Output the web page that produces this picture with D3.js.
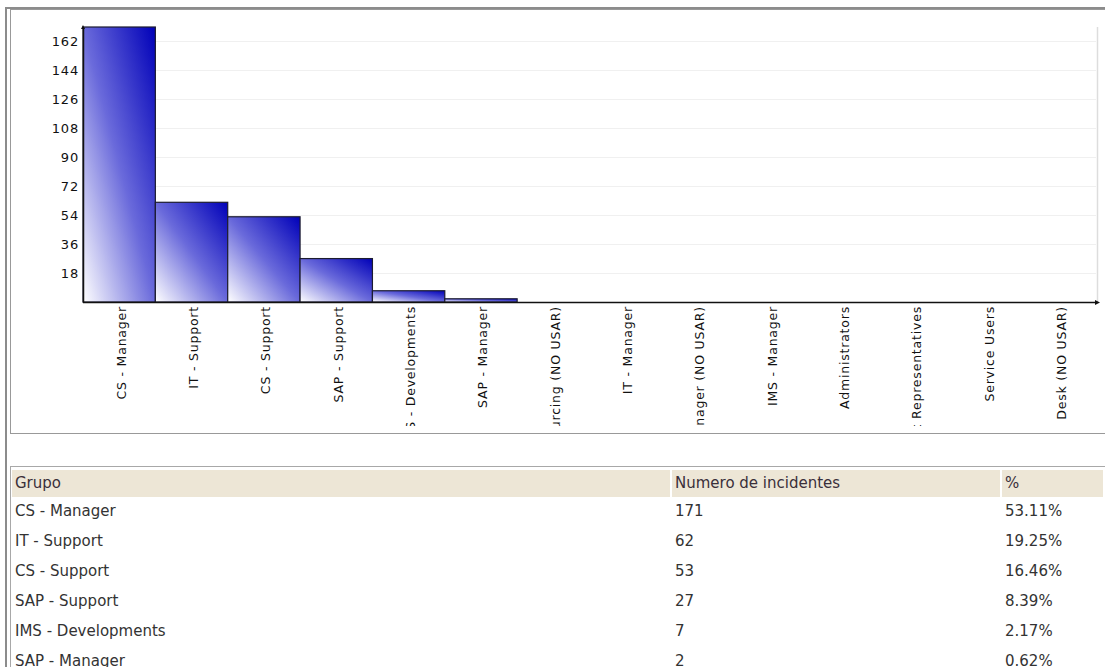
<!DOCTYPE html>
<html>
<head>
<meta charset="utf-8">
<script src="https://cdn.jsdelivr.net/npm/d3@7"></script>
<style>
  body { margin: 0; background: #fff; }
  svg { display: block; font-family: "DejaVu Sans", Verdana, sans-serif; }
</style>
</head>
<body>
<div id="chart"></div>
<script>
// Groups and their incident counts
var groups = [
  "CS - Manager", "IT - Support", "CS - Support", "SAP - Support",
  "IMS - Developments", "SAP - Manager", "IMS - Outsourcing (NO USAR)",
  "IT - Manager", "CS - Manager (NO USAR)", "IMS - Manager",
  "Administrators", "Account Representatives", "Service Users",
  "Help Desk (NO USAR)"
];
var incidents = [171, 62, 53, 27, 7, 2, 0, 0, 0, 0, 0, 0, 0, 0];
var yTicks = [18, 36, 54, 72, 90, 108, 126, 144, 162];
var columns = ["Grupo", "Numero de incidentes", "%"];

var width = 1105,
    height = 667;

var total = d3.sum(incidents),
    pct = d3.format(".2%");

// Table lists only the groups that have incidents
var rows = groups
  .map(function(g, i) { return [g, String(incidents[i]), pct(incidents[i] / total), incidents[i]]; })
  .filter(function(r) { return r[3] > 0; })
  .map(function(r) { return r.slice(0, 3); });

var svg = d3.select("#chart").append("svg")
    .attr("width", width)
    .attr("height", height);

var defs = svg.append("defs");

// Bar gradient: light at bottom-left, deep blue at top-right
var grad = defs.append("linearGradient")
    .attr("id", "barFill")
    .attr("x1", 0).attr("y1", 1)
    .attr("x2", 1).attr("y2", 0);
grad.append("stop").attr("offset", 0).attr("stop-color", "#ffffff");
grad.append("stop").attr("offset", 0.5).attr("stop-color", "#6a6adb");
grad.append("stop").attr("offset", 1).attr("stop-color", "#0000b8");

defs.append("clipPath").attr("id", "labelClip")
  .append("rect")
    .attr("x", 0).attr("y", 303)
    .attr("width", width).attr("height", 123);

// Page and panel frames
svg.append("line")
    .attr("x1", 6).attr("x2", 6).attr("y1", 7).attr("y2", height)
    .attr("stroke", "#8c8c8c").attr("stroke-width", 2);
svg.append("line")
    .attr("x1", 5).attr("x2", width).attr("y1", 8).attr("y2", 8)
    .attr("stroke", "#8c8c8c").attr("stroke-width", 2);
svg.append("rect")
    .attr("x", 10.5).attr("y", 9.5)
    .attr("width", width).attr("height", 424)
    .attr("fill", "none").attr("stroke", "#999");

// Scales
var x = d3.scaleBand()
    .domain(groups)
    .range([83, 1096])
    .padding(0);

var y = d3.scaleLinear()
    .domain([0, 171])
    .range([302, 27]);

// Gridlines
svg.append("g")
  .selectAll("line")
  .data(yTicks)
  .enter()
  .append("line")
    .attr("x1", 84).attr("x2", 1096)
    .attr("y1", function(d) { return Math.round(y(d)) + 0.5; })
    .attr("y2", function(d) { return Math.round(y(d)) + 0.5; })
    .attr("stroke", "#f0f0f0");

// Right edge of plot
svg.append("line")
    .attr("x1", 1097.5).attr("x2", 1097.5)
    .attr("y1", 27).attr("y2", 302)
    .attr("stroke", "#dddddd").attr("stroke-width", 1.5);

// Bars
svg.append("g")
  .selectAll("rect")
  .data(incidents)
  .enter()
  .append("rect")
    .attr("x", function(d, i) { return x(groups[i]); })
    .attr("y", function(d) { return y(d); })
    .attr("width", x.bandwidth())
    .attr("height", function(d) { return y(0) - y(d); })
    .attr("fill", "url(#barFill)")
    .attr("stroke", function(d) { return d > 0 ? "#1c1c30" : "none"; })
    .attr("stroke-width", 1.2);

// Y axis
var yAxis = svg.append("g")
    .attr("transform", "translate(83,0)")
    .call(d3.axisLeft(y).tickValues(yTicks).tickSize(0).tickPadding(4));
yAxis.select(".domain").attr("stroke", "#111").attr("stroke-width", 1.5);
yAxis.selectAll("text")
    .attr("fill", "#111")
    .style("font-size", "13px")
    .style("letter-spacing", "0.8px")
    .style("font-family", "'DejaVu Sans', Verdana, sans-serif");

// X axis line with arrows
svg.append("line")
    .attr("x1", 83).attr("x2", 1097)
    .attr("y1", 302.5).attr("y2", 302.5)
    .attr("stroke", "#111").attr("stroke-width", 1.5);
svg.append("path")
    .attr("d", "M1100,302.5L1095,300L1095,305Z")
    .attr("fill", "#111");
svg.append("path")
    .attr("d", "M83,25L81,29L85,29Z")
    .attr("fill", "#111");

// Category labels, rotated and clipped
svg.append("g")
    .attr("clip-path", "url(#labelClip)")
  .selectAll("text")
  .data(groups)
  .enter()
  .append("text")
    .attr("transform", function(d) {
      return "translate(" + (x(d) + x.bandwidth() / 2 + 2) + ",306) rotate(-90)";
    })
    .attr("dy", "0.35em")
    .attr("text-anchor", "end")
    .attr("fill", "#111")
    .style("font-size", "12.5px")
    .style("letter-spacing", "0.8px")
    .text(function(d) { return d; });

// Table panel
var colX = [12, 672, 1002],
    colW = [660, 330, 103];

svg.append("rect")
    .attr("x", 10.5).attr("y", 466.5)
    .attr("width", width).attr("height", height)
    .attr("fill", "none").attr("stroke", "#a8a8a8");

svg.append("g")
  .selectAll("rect")
  .data(columns)
  .enter()
  .append("rect")
    .attr("x", function(d, i) { return colX[i]; })
    .attr("y", 470)
    .attr("width", function(d, i) { return colW[i] - 2; })
    .attr("height", 27)
    .attr("fill", "#ede6d6");

svg.append("g")
  .selectAll("text")
  .data(columns)
  .enter()
  .append("text")
    .attr("x", function(d, i) { return colX[i] + 3; })
    .attr("y", 488)
    .attr("fill", "#3a2f3a")
    .style("font-size", "15px")
    .text(function(d) { return d; });

var rowG = svg.append("g")
  .selectAll("g")
  .data(rows)
  .enter()
  .append("g")
    .attr("transform", function(d, i) { return "translate(0," + (516 + i * 30) + ")"; });

rowG.selectAll("text")
  .data(function(d) { return d; })
  .enter()
  .append("text")
    .attr("x", function(d, i) { return colX[i] + 3; })
    .attr("fill", "#333")
    .style("font-size", "15px")
    .text(function(d) { return d; });
</script>
</body>
</html>
